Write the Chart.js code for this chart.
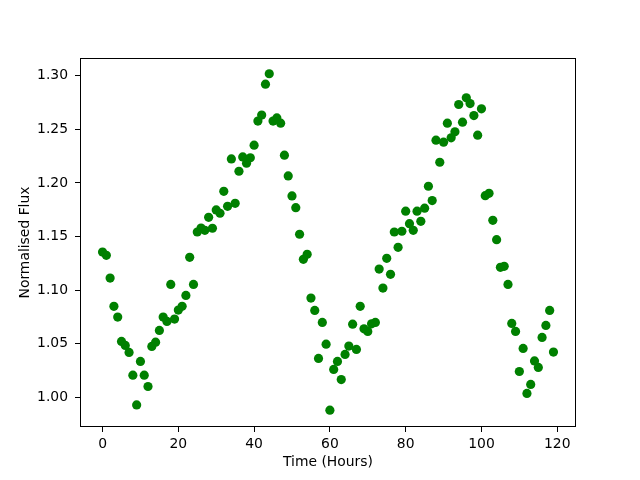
<!DOCTYPE html>
<html>
<head>
<meta charset="utf-8">
<script src="https://cdn.jsdelivr.net/npm/chart.js@4.4.0/dist/chart.umd.min.js"></script>
<style>
  html, body { margin: 0; padding: 0; background: #fff; }
  #wrap { width: 640px; height: 480px; }
</style>
</head>
<body>
<div id="wrap"><canvas id="chart" width="640" height="480"></canvas></div>
<script>
// Hours 0..119, one reading per hour
const hours = [];
for (let h = 0; h < 120; h++) hours.push(h);

const flux = [
  1.1355, 1.1324, 1.1112, 1.0848, 1.0748, 1.0521, 1.0483, 1.0418, 1.0206, 0.9928,
  1.0334, 1.0206, 1.0100, 1.0474, 1.0514, 1.0623, 1.0748, 1.0707, 1.1053, 1.0729,
  1.0813, 1.0848, 1.0950, 1.1306, 1.1053, 1.1542, 1.1579, 1.1558, 1.1679, 1.1577,
  1.1748, 1.1717, 1.1922, 1.1782, 1.2224, 1.1810, 1.2109, 1.2243, 1.2184, 1.2234,
  1.2352, 1.2577, 1.2633, 1.2922, 1.3019, 1.2577, 1.2607, 1.2558, 1.2259, 1.2065,
  1.1879, 1.1769, 1.1521, 1.1287, 1.1334, 1.0925, 1.0810, 1.0362, 1.0698, 1.0495,
  0.9879, 1.0259, 1.0334, 1.0165, 1.0399, 1.0477, 1.0682, 1.0446, 1.0848, 1.0638,
  1.0614, 1.0685, 1.0698, 1.1196, 1.1019, 1.1296, 1.1147, 1.1542, 1.1399, 1.1549,
  1.1736, 1.1620, 1.1558, 1.1736, 1.1642, 1.1764, 1.1969, 1.1835, 1.2399, 1.2193,
  1.2380, 1.2558, 1.2421, 1.2477, 1.2732, 1.2567, 1.2794, 1.2741, 1.2629, 1.2446,
  1.2692, 1.1881, 1.1903, 1.1651, 1.1470, 1.1212, 1.1222, 1.1053, 1.0689, 1.0614,
  1.0240, 1.0455, 1.0035, 1.0119, 1.0339, 1.0278, 1.0558, 1.0670, 1.0810, 1.0421
];

const xTicks = [0, 20, 40, 60, 80, 100, 120];
const yTicks = [1.00, 1.05, 1.10, 1.15, 1.20, 1.25, 1.30];

const font = { family: 'DejaVu Sans', size: 13.9 };

// matplotlib-style box around the plot area
const frame = {
  id: 'frame',
  afterDraw(chart) {
    const a = chart.chartArea, c = chart.ctx;
    c.save();
    c.strokeStyle = '#000';
    c.lineWidth = 1;
    c.strokeRect(a.left + 0.5, a.top + 0.5, a.right - a.left - 1, a.bottom - a.top - 1);
    c.restore();
  }
};

new Chart(document.getElementById('chart').getContext('2d'), {
  type: 'scatter',
  data: {
    datasets: [{
      data: hours.map((h, i) => ({ x: h, y: flux[i] })),
      backgroundColor: '#008000',
      borderWidth: 0,
      pointRadius: 4.6,
      pointHoverRadius: 4.6
    }]
  },
  options: {
    responsive: false,
    animation: false,
    layout: { padding: { top: 58, right: 64, left: 0, bottom: 0 } },
    plugins: { legend: { display: false }, tooltip: { enabled: false } },
    scales: {
      x: {
        type: 'linear',
        min: -5.95,
        max: 124.95,
        afterBuildTicks: s => { s.ticks = xTicks.map(v => ({ value: v })); },
        afterFit: s => { s.height = 53; },
        grid: { display: true, drawOnChartArea: false, drawTicks: true, tickLength: 5, color: '#000' },
        border: { display: false },
        ticks: { color: '#000', font, padding: 4, maxRotation: 0, callback: v => String(v) },
        title: { display: true, text: 'Time (Hours)', color: '#000', font, padding: { top: 2, bottom: 9 } }
      },
      y: {
        type: 'linear',
        min: 0.9722,
        max: 1.3166,
        afterBuildTicks: s => { s.ticks = yTicks.map(v => ({ value: v })); },
        afterFit: s => { s.width = 80; },
        grid: { display: true, drawOnChartArea: false, drawTicks: true, tickLength: 5, color: '#000' },
        border: { display: false },
        ticks: { color: '#000', font, padding: 7, callback: v => v.toFixed(2) },
        title: { display: true, text: 'Normalised Flux', color: '#000', font, padding: 17.5 }
      }
    }
  },
  plugins: [frame]
});
</script>
</body>
</html>
